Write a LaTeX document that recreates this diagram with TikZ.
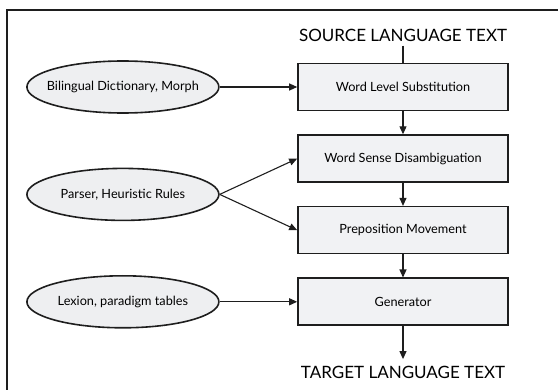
\documentclass[tikz,border=0pt]{standalone}
\usepackage{fontspec}
\setmainfont{Lato}
\usepackage{tikz}
\usetikzlibrary{shapes.geometric, arrows.meta, positioning, calc}
\definecolor{boxgray}{HTML}{F1F2F4}
\definecolor{ovalgray}{HTML}{EEEFF1}
\definecolor{linegray}{HTML}{1E1E1E}
% keep the oval at its fixed size whatever the text width
\newcommand{\ovaltext}[1]{\makebox[0pt]{#1}}

\begin{document}
\begin{tikzpicture}[
  x=1pt, y=1pt,
  node distance=23pt and 77.5pt,
  stage/.style={rectangle, draw=linegray, line width=1.6pt, fill=boxgray, minimum width=210pt, minimum height=47pt, align=center, font=\fontsize{12.7}{15}\selectfont},
  res/.style={ellipse, draw=linegray, line width=1.6pt, fill=ovalgray, minimum width=192pt, minimum height=52pt, inner sep=0pt, font=\fontsize{12.7}{15}\selectfont},
  io/.style={inner sep=4pt, font=\fontsize{17}{19}\selectfont},
  arr/.style={-{Triangle[length=8pt, width=7pt]}, line width=1.1pt, color=linegray},
]
\useasboundingbox (0,0) rectangle (558,389);
% outer frame (right and bottom sides run off the page)
\draw[line width=1.6pt, linegray] (7,-10) rectangle (575,379);

% Right column: the four stages
\node[stage] at (403,302) (wls) {Word Level Substitution};
\node[stage, below=of wls] (wsd) {Word Sense Disambiguation};
\node[stage, below=of wsd] (pm) {Preposition Movement};
\node[stage, below=of pm] (gen) {Generator};

% Input and output text
\node[io, above=17pt of wls] (src) {SOURCE LANGUAGE TEXT};
\node[io, below=36pt of gen] (tgt) {TARGET LANGUAGE TEXT};

% Left column: resources
\node[res, left=of wls] (dict) {\ovaltext{Bilingual Dictionary, Morph}};
\coordinate (mid) at ($(wsd.west)!0.5!(pm.west)$);
\node[res, left=of mid] (rules) {\ovaltext{Parser, Heuristic Rules}};
\node[res, left=of gen] (lex) {\ovaltext{Lexion, paradigm tables}};

% Main flow
\draw[line width=1.1pt, linegray] (src) -- (wls);
\draw[arr] (wls) -- (wsd);
\draw[arr] (wsd) -- (pm);
\draw[arr] (pm) -- (gen);
\draw[arr, shorten >=3pt] (gen) -- (tgt);

% Resources into stages
\draw[arr] (dict) -- (wls);
\draw[arr] (rules.east) -- (wsd.west);
\draw[arr] (rules.east) -- (pm.west);
\draw[arr] (lex) -- (gen);
\end{tikzpicture}
\end{document}
